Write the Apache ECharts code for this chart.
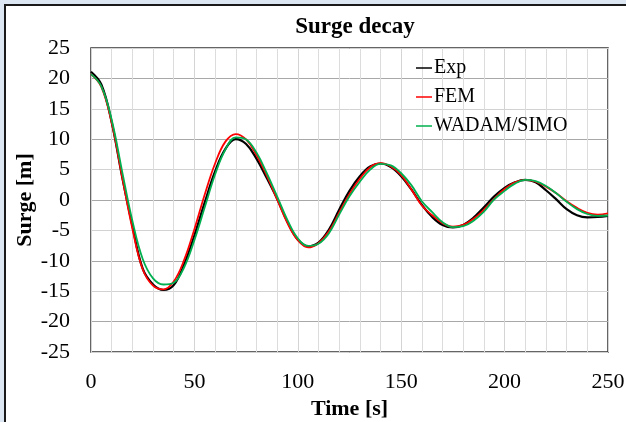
<!DOCTYPE html>
<html>
<head>
<meta charset="utf-8">
<script src="https://cdn.jsdelivr.net/npm/echarts@6/dist/echarts.min.js"></script>
<style>html,body{margin:0;padding:0;background:#dce6f2;}#c{width:626px;height:422px;}</style>
</head>
<body>
<div id="c"></div>
<script>
var time = [0,5,10,15,20,25,30,35,40,45,50,55,60,65,70,75,80,85,90,95,100,105,110,115,120,125,130,135,140,145,150,155,160,165,170,175,180,185,190,195,200,205,210,215,220,225,230,235,240,245,250];
var expData = [21.1,19.0,12.8,3.9,-4.2,-11.3,-13.9,-14.8,-14.0,-10.6,-5.8,-0.4,4.7,8.4,10.0,9.2,6.8,3.6,0.2,-3.6,-6.5,-7.6,-7.0,-4.9,-1.6,1.5,3.9,5.5,6.0,5.4,3.9,1.7,-0.8,-2.8,-4.1,-4.5,-4.1,-2.9,-1.2,0.6,2.0,2.9,3.3,2.9,1.6,0.1,-1.5,-2.5,-2.85,-2.8,-2.6];
var femData = [20.7,18.6,12.7,3.9,-4.7,-11.4,-14.1,-14.7,-13.4,-9.9,-4.8,0.9,6.0,9.6,10.85,9.96,7.4,4.0,0.1,-3.8,-6.6,-7.8,-7.1,-5.2,-2.1,1.0,3.5,5.4,6.05,5.5,4.1,1.7,-0.9,-2.5,-3.8,-4.4,-4.1,-3.1,-1.6,0.2,1.8,2.9,3.3,3.0,2.2,1.1,-0.2,-1.3,-2.1,-2.4,-2.2];
var wadamData = [20.7,18.7,13.2,4.8,-3.4,-9.7,-12.9,-13.9,-13.6,-11.1,-6.6,-1.2,4.2,8.3,10.3,9.95,7.8,4.4,0.6,-3.3,-6.3,-7.55,-7.2,-5.5,-2.4,0.6,3.0,5.0,5.95,5.7,4.4,2.4,-0.2,-2.0,-3.65,-4.45,-4.3,-3.4,-1.9,0.1,1.5,2.7,3.3,3.1,2.3,1.1,-0.3,-1.5,-2.3,-2.6,-2.55];
var seriesNames = ['Exp','FEM','WADAM/SIMO'];
var seriesColors = ['#000000','#ff0000','#00b050'];

function pairs(vals){ return time.map(function(t,i){ return [t, vals[i]]; }); }

var font = 'Liberation Serif';
var chart = echarts.init(document.getElementById('c'), null, {renderer:'canvas'});
chart.setOption({
  backgroundColor: '#dce6f2',
  animation: false,
  graphic: [{
    type: 'rect', z: -10, silent: true,
    shape: {x: 5, y: 5, width: 700, height: 500},
    style: {fill: '#ffffff', stroke: '#1a1a1a', lineWidth: 2}
  }],
  title: {
    text: 'Surge decay', left: 350, top: 11, textAlign: 'center',
    textStyle: {fontFamily: font, fontSize: 23, fontWeight: 'bold', color: '#000'}
  },
  legend: {
    orient: 'vertical', left: 411, top: 53, itemGap: 9,
    icon: 'rect', itemWidth: 16, itemHeight: 1.5,
    textStyle: {fontFamily: font, fontSize: 20, color: '#000', padding: [0,0,0,-3]},
    data: seriesNames
  },
  grid: {left: 91, top: 48, right: 18, bottom: 70, outerBoundsMode: 'none', show: true, borderColor: '#333', borderWidth: 1.5, backgroundColor: 'transparent'},
  xAxis: {
    type: 'value', min: 0, max: 250, interval: 50,
    name: 'Time [s]', nameLocation: 'middle', nameGap: 46, nameMoveOverlap: false,
    nameTextStyle: {fontFamily: font, fontSize: 22, fontWeight: 'bold', color: '#000'},
    axisLine: {show: false}, axisTick: {show: false},
    axisLabel: {fontFamily: font, fontSize: 22, color: '#000', margin: 19},
    splitLine: {show: true, lineStyle: {color: '#d4d4d4', width: 1}},
    minorTick: {show: false, splitNumber: 5},
    minorSplitLine: {show: true, lineStyle: {color: '#dcdcdc', width: 1}}
  },
  yAxis: {
    type: 'value', min: -25, max: 25, interval: 5,
    name: 'Surge [m]', nameLocation: 'middle', nameGap: 55, nameMoveOverlap: false,
    nameTextStyle: {fontFamily: font, fontSize: 22, fontWeight: 'bold', color: '#000'},
    axisLine: {show: false}, axisTick: {show: false},
    axisLabel: {fontFamily: font, fontSize: 22, color: '#000', margin: 21},
    splitLine: {show: true, lineStyle: {color: ['#d2d2d2','#a8a8a8'], width: 1}}
  },
  series: [
    {name: seriesNames[0], type: 'line', data: pairs(expData), smooth: 0.4, showSymbol: false, lineStyle: {color: seriesColors[0], width: 2.2}, itemStyle: {color: seriesColors[0]}},
    {name: seriesNames[1], type: 'line', data: pairs(femData), smooth: 0.4, showSymbol: false, lineStyle: {color: seriesColors[1], width: 1.8}, itemStyle: {color: seriesColors[1]}},
    {name: seriesNames[2], type: 'line', data: pairs(wadamData), smooth: 0.4, showSymbol: false, lineStyle: {color: seriesColors[2], width: 1.8}, itemStyle: {color: seriesColors[2]}}
  ]
});
</script>
</body>
</html>
